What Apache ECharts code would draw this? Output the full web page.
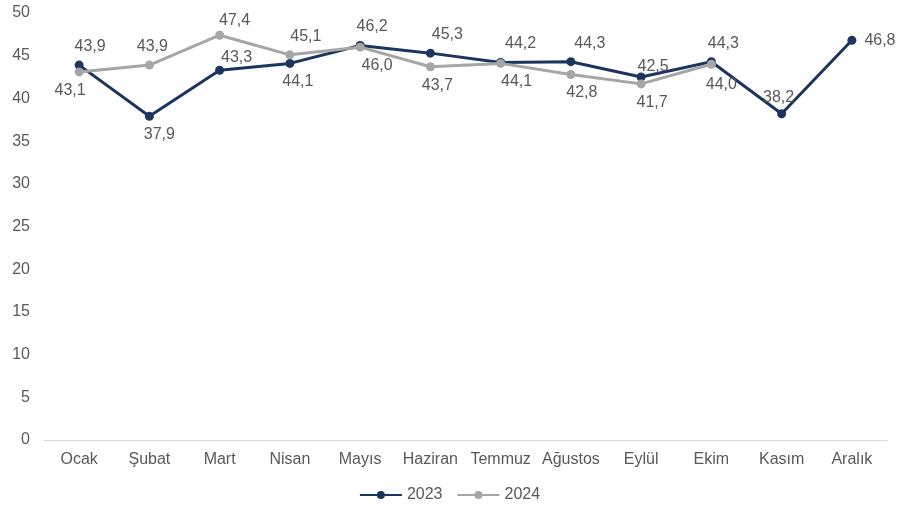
<!DOCTYPE html>
<html>
<head>
<meta charset="utf-8">
<script src="https://cdn.jsdelivr.net/npm/echarts@6/dist/echarts.min.js"></script>
<style>
  html, body { margin: 0; padding: 0; background: #ffffff; }
  #chart { width: 899px; height: 512px; }
</style>
</head>
<body>
<div id="chart"></div>
<script>
// Monthly values, 2023 vs 2024
const months = ['Ocak', 'Şubat', 'Mart', 'Nisan', 'Mayıs', 'Haziran', 'Temmuz', 'Ağustos', 'Eylül', 'Ekim', 'Kasım', 'Aralık'];
const values2023 = [43.9, 37.9, 43.3, 44.1, 46.2, 45.3, 44.2, 44.3, 42.5, 44.3, 38.2, 46.8];
const values2024 = [43.1, 43.9, 47.4, 45.1, 46.0, 43.7, 44.1, 42.8, 41.7, 44.0];
const yTicks = [0, 5, 10, 15, 20, 25, 30, 35, 40, 45, 50];

// Where each value label sits relative to its point: [position, dx, dy]
const place2023 = [
  ['top', 11, 0], ['bottom', 10, 0], ['top', 17, 6], ['bottom', 8, 0],
  ['top', 12, 0], ['top', 17, 0], ['top', 20, 0], ['top', 19, 0],
  ['top', 12, 8], ['top', 12, 0], ['top', -3, 2], ['right', 2, 0]
];
const place2024 = [
  ['bottom', -9, 0], ['top', 3, 0], ['top', 15, 4], ['top', 16, 0],
  ['bottom', 17, 0], ['bottom', 7, 0], ['bottom', 16, 0], ['bottom', 11, 0],
  ['bottom', 11, 0], ['bottom', 10, 2]
];

const fmt = v => v.toFixed(1).replace('.', ',');
const font = 'Liberation Sans';

function withLabels(values, places) {
  return values.map((v, i) => ({
    value: v,
    label: { position: places[i][0], offset: [places[i][1], places[i][2]] }
  }));
}

const chart = echarts.init(document.getElementById('chart'), null, { renderer: 'canvas' });

chart.setOption({
  backgroundColor: '#ffffff',
  animation: false,
  grid: { left: 44, right: 12, top: 13, bottom: 72, containLabel: false },
  legend: {
    bottom: 4,
    left: 'center',
    itemWidth: 42,
    itemHeight: 10,
    itemGap: 14,
    textStyle: { fontFamily: font, fontSize: 16, color: '#595959' },
    data: ['2023', '2024']
  },
  xAxis: {
    type: 'category',
    data: months,
    boundaryGap: true,
    axisLine: { show: true, lineStyle: { color: '#d9d9d9', width: 1 } },
    axisTick: { show: false },
    axisLabel: { fontFamily: font, fontSize: 16, color: '#595959', margin: 12, interval: 0 }
  },
  yAxis: {
    type: 'value',
    min: yTicks[0],
    max: yTicks[yTicks.length - 1],
    interval: 5,
    axisLine: { show: false },
    axisTick: { show: false },
    splitLine: { show: false },
    axisLabel: { fontFamily: font, fontSize: 16, color: '#595959', margin: 14 }
  },
  series: [
    {
      name: '2023',
      type: 'line',
      data: withLabels(values2023, place2023),
      symbol: 'circle',
      symbolSize: 9,
      lineStyle: { color: '#1c355e', width: 3 },
      itemStyle: { color: '#1c355e' },
      label: {
        show: true,
        fontFamily: font,
        fontSize: 16,
        color: '#595959',
        distance: 6,
        formatter: p => fmt(p.value)
      },
      z: 2
    },
    {
      name: '2024',
      type: 'line',
      data: withLabels(values2024, place2024),
      symbol: 'circle',
      symbolSize: 9,
      lineStyle: { color: '#a6a6a6', width: 3 },
      itemStyle: { color: '#a6a6a6' },
      label: {
        show: true,
        fontFamily: font,
        fontSize: 16,
        color: '#595959',
        distance: 6,
        formatter: p => fmt(p.value)
      },
      z: 3
    }
  ]
});
</script>
</body>
</html>
